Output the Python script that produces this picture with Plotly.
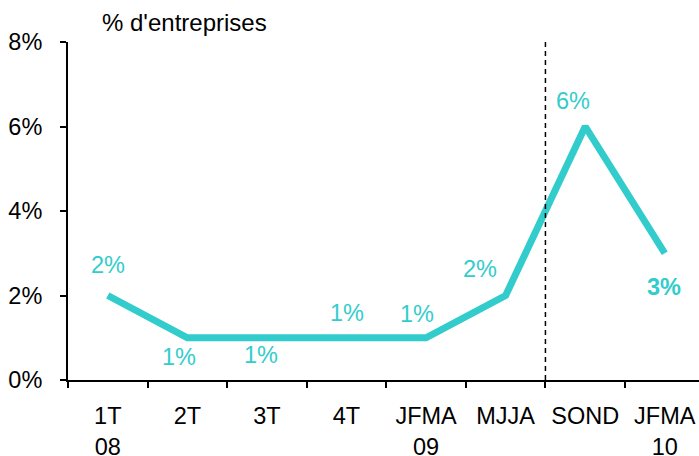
import plotly.graph_objects as go

categories = ["1T<br>08", "2T", "3T", "4T", "JFMA<br>09", "MJJA", "SOND", "JFMA<br>10"]
values = [2, 1, 1, 1, 1, 2, 6, 3]
labels = ["2%", "1%", "1%", "1%", "1%", "2%", "6%", "<b>3%</b>"]
y_ticks = [0, 2, 4, 6, 8]
y_tick_text = ["0%", "2%", "4%", "6%", "8%"]

# label offsets (pixels) relative to each point
label_dx = [0, -8, -6, 0, -9, -26, -12, -1]
label_dy = [31, -19, -17, 25, 24, 27, 26, -34]

color = "#33CCCC"
font_family = "Liberation Sans, Arial, sans-serif"
fs = 23.5

fig = go.Figure()
fig.add_trace(go.Scatter(
    x=categories, y=values, mode="lines",
    line=dict(color=color, width=7),
    hoverinfo="skip", showlegend=False,
))

for c, v, t, dx, dy in zip(categories, values, labels, label_dx, label_dy):
    fig.add_annotation(x=c, y=v, text=t, showarrow=False,
                       xshift=dx, yshift=dy,
                       font=dict(color=color, size=fs, family=font_family))

fig.add_shape(type="line", xref="x", yref="paper", x0=5.5, x1=5.5, y0=0, y1=1.012,
              line=dict(color="black", width=1.5, dash="5px,4px"))

fig.add_annotation(xref="paper", yref="paper", x=0.0507, y=1.059,
                   xanchor="left", yanchor="middle",
                   text="% d'entreprises", showarrow=False,
                   font=dict(color="black", size=24, family=font_family))

fig.update_layout(
    width=699, height=456,
    margin=dict(l=68, r=0, t=42, b=76, autoexpand=False),
    paper_bgcolor="white", plot_bgcolor="white",
    font=dict(family=font_family, size=fs, color="black"),
    xaxis=dict(
        type="category", tickson="boundaries", range=[-0.5, 7.43],
        showline=True, linecolor="black", linewidth=2,
        ticks="outside", ticklen=6, tickwidth=2, tickcolor="black",
        ticklabelstandoff=14, automargin=False, ticklabeloverflow="allow",
        showgrid=False, zeroline=False, fixedrange=True,
    ),
    yaxis=dict(
        range=[0, 8], tickvals=y_ticks, ticktext=y_tick_text,
        showline=True, linecolor="black", linewidth=2,
        ticks="outside", ticklen=6, tickwidth=2, tickcolor="black",
        ticklabelstandoff=13, automargin=False,
        showgrid=False, zeroline=False, fixedrange=True,
    ),
)

fig.write_html(
    "out.html",
    config={"displayModeBar": False, "staticPlot": True},
    post_script="document.body.style.margin='0';document.body.style.overflow='hidden';",
)
